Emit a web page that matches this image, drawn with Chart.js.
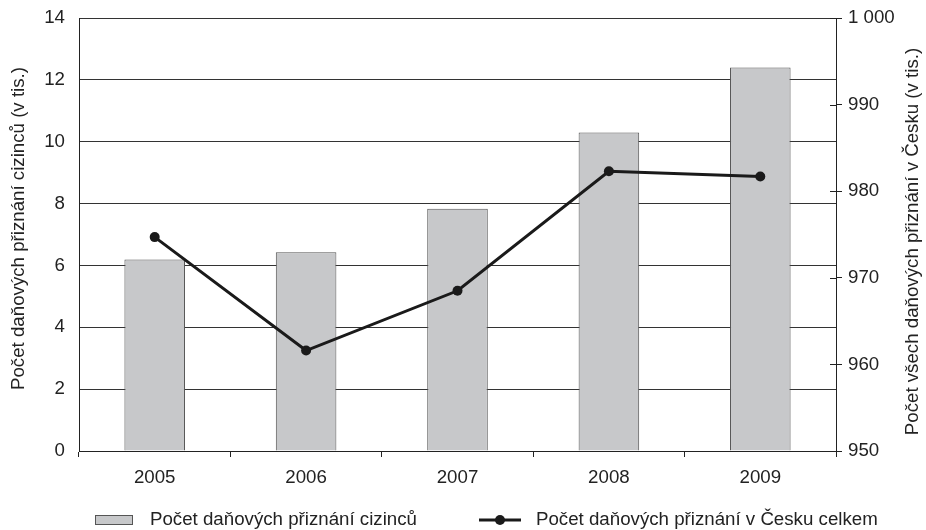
<!DOCTYPE html>
<html><head><meta charset="utf-8">
<script src="https://cdn.jsdelivr.net/npm/chart.js@4.4.1/dist/chart.umd.min.js"></script>
<style>html,body{margin:0;padding:0;background:#fff}#wrap{width:926px;height:530px}</style>
</head><body><div id="wrap"><canvas id="c" width="926" height="530"></canvas></div>
<script>
const years = ['2005', '2006', '2007', '2008', '2009'];
const foreignReturns = [6.19, 6.43, 7.83, 10.30, 12.40];
const totalReturns = [974.7, 961.6, 968.5, 982.3, 981.7];
const rightTickLabels = ['950', '960', '970', '980', '990', '1 000'];
const barLabel = 'Počet daňových přiznání cizinců';
const lineLabel = 'Počet daňových přiznání v Česku celkem';
const leftTitle = 'Počet daňových přiznání cizinců (v tis.)';
const rightTitle = 'Počet všech daňových přiznání v Česku (v tis.)';

const FONT_FAMILY = "'Liberation Sans', Arial, Helvetica, sans-serif";
const FONT_SIZE = 18.7;
const TEXT = '#222';
const BAR_FILL = '#c7c8ca';
const BAR_EDGE = '#555';
const LINE_COL = '#1a1a1a';

const extras = {
  id: 'extras',
  afterDraw(chart) {
    const {ctx, chartArea} = chart;
    const y1 = chart.scales.y1;
    ctx.save();
    ctx.strokeStyle = TEXT;
    ctx.lineWidth = 1;
    y1.ticks.forEach(t => {
      const y = Math.round(y1.getPixelForValue(t.value)) + 0.5;
      ctx.beginPath();
      ctx.moveTo(chartArea.right - 6, y);
      ctx.lineTo(chartArea.right, y);
      ctx.stroke();
    });
    ctx.font = FONT_SIZE + 'px ' + FONT_FAMILY;
    ctx.fillStyle = TEXT;
    ctx.textAlign = 'center';
    ctx.textBaseline = 'middle';
    const cy = (chartArea.top + chartArea.bottom) / 2;
    ctx.save();
    ctx.translate(19, cy - 6);
    ctx.rotate(-Math.PI / 2);
    ctx.fillText(leftTitle, 0, 0);
    ctx.restore();
    ctx.save();
    ctx.translate(913, cy + 7);
    ctx.rotate(-Math.PI / 2);
    ctx.fillText(rightTitle, 0, 0);
    ctx.restore();

    // legend
    const ly = 520;
    ctx.fillStyle = BAR_FILL;
    ctx.strokeStyle = BAR_EDGE;
    ctx.lineWidth = 1;
    ctx.fillRect(95, ly - 4.5, 38, 9);
    ctx.strokeRect(95.5, ly - 4.5, 37, 9);
    ctx.fillStyle = TEXT;
    ctx.textAlign = 'left';
    ctx.fillText(barLabel, 150, ly);
    ctx.strokeStyle = LINE_COL;
    ctx.lineWidth = 3;
    ctx.beginPath();
    ctx.moveTo(479, ly);
    ctx.lineTo(521, ly);
    ctx.stroke();
    ctx.fillStyle = LINE_COL;
    ctx.beginPath();
    ctx.arc(500, ly, 5, 0, Math.PI * 2);
    ctx.fill();
    ctx.fillStyle = TEXT;
    ctx.fillText(lineLabel, 536, ly);
    ctx.restore();
  }
};

function noPad(s) { s.paddingTop = 0; s.paddingBottom = 0; }

new Chart(document.getElementById('c'), {
  data: {
    labels: years,
    datasets: [
      {
        type: 'line',
        label: lineLabel,
        data: totalReturns,
        yAxisID: 'y1',
        borderColor: LINE_COL,
        borderWidth: 3,
        pointRadius: 5,
        pointBackgroundColor: LINE_COL,
        pointBorderWidth: 0,
        tension: 0,
        order: 0
      },
      {
        type: 'bar',
        label: barLabel,
        data: foreignReturns,
        yAxisID: 'y',
        backgroundColor: BAR_FILL,
        borderColor: BAR_EDGE,
        borderWidth: 1,
        barPercentage: 0.4,
        categoryPercentage: 1.0,
        order: 1
      }
    ]
  },
  options: {
    responsive: false,
    animation: false,
    devicePixelRatio: 1,
    layout: {padding: {top: 18, left: 0, right: 0, bottom: 0}},
    plugins: {legend: {display: false}, tooltip: {enabled: false}},
    scales: {
      x: {
        offset: true,
        grid: {offset: true, drawOnChartArea: false, drawTicks: true, tickLength: 6, color: TEXT},
        border: {display: true, color: TEXT, width: 1},
        ticks: {color: TEXT, padding: 10, font: {family: FONT_FAMILY, size: FONT_SIZE}},
        afterFit(s) { s.height = 79; }
      },
      y: {
        position: 'left',
        min: 0, max: 14,
        ticks: {stepSize: 2, color: TEXT, padding: 14, font: {family: FONT_FAMILY, size: FONT_SIZE}},
        grid: {color: '#333', lineWidth: 1, drawTicks: false},
        border: {display: true, color: TEXT, width: 1},
        afterFit(s) { s.width = 79; noPad(s); }
      },
      y1: {
        position: 'right',
        min: 950, max: 1000,
        ticks: {stepSize: 10, color: TEXT, padding: 6, font: {family: FONT_FAMILY, size: FONT_SIZE},
          callback: (v, i) => rightTickLabels[i]},
        grid: {drawOnChartArea: false, drawTicks: true, tickLength: 6, color: TEXT},
        border: {display: true, color: TEXT, width: 1},
        afterFit(s) { s.width = 90; noPad(s); }
      }
    }
  },
  plugins: [extras]
});
</script>
</body></html>
